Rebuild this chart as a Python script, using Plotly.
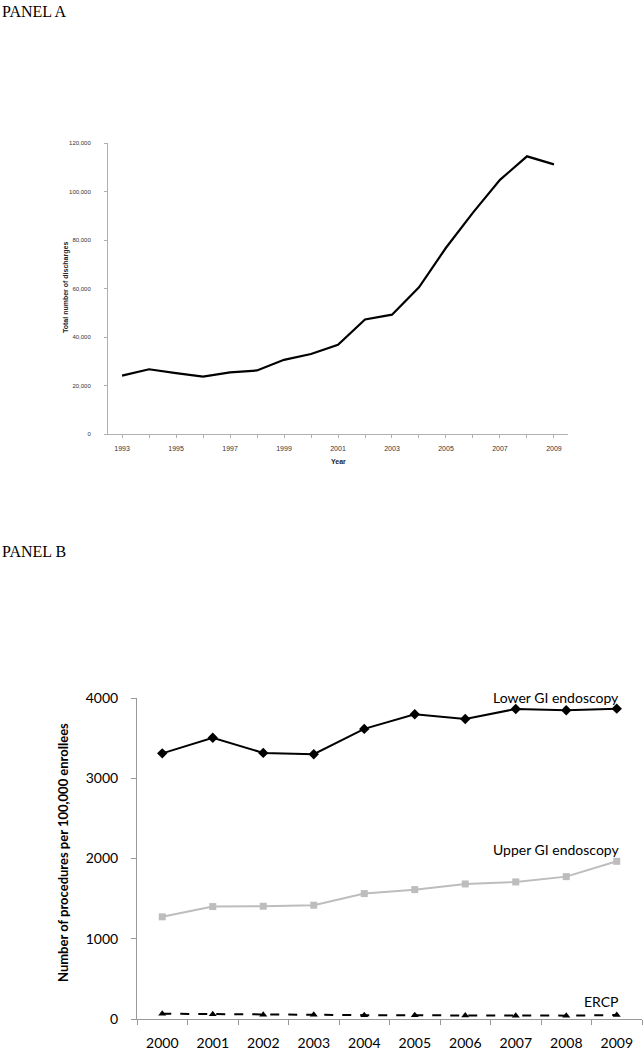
import plotly.graph_objects as go

W, H = 643, 1050

# ---------- Panel A data ----------
years_a = [1993, 1994, 1995, 1996, 1997, 1998, 1999, 2000, 2001,
           2002, 2003, 2004, 2005, 2006, 2007, 2008, 2009]
discharges = [24100, 26700, 25100, 23700, 25400, 26200, 30600, 33000, 36800,
              47200, 49200, 60500, 76800, 91300, 104800, 114500, 111200]
a_yticks = [0, 20000, 40000, 60000, 80000, 100000, 120000]
a_ytext = ["0", "20,000", "40,000", "60,000", "80,000", "100,000", "120,000"]

# ---------- Panel B data ----------
years_b = ["2000", "2001", "2002", "2003", "2004", "2005", "2006", "2007", "2008", "2009"]
lower_gi = [3310, 3505, 3316, 3300, 3615, 3797, 3739, 3863, 3847, 3867]
upper_gi = [1273, 1401, 1405, 1418, 1563, 1612, 1683, 1708, 1774, 1965]
ercp = [66, 60, 52, 52, 48, 46, 44, 42, 42, 50]
b_yticks = [0, 1000, 2000, 3000, 4000]
series_labels = ["Lower GI endoscopy", "Upper GI endoscopy", "ERCP"]


def px_x(p):
    return p / W


def px_y(p):
    return 1 - p / H


fig = go.Figure()

fig.add_trace(go.Scatter(x=years_a, y=discharges, mode="lines",
                         line=dict(color="black", width=2.2),
                         xaxis="x", yaxis="y", showlegend=False))

fig.add_trace(go.Scatter(x=years_b, y=lower_gi, mode="lines+markers",
                         line=dict(color="black", width=2),
                         marker=dict(symbol="diamond", size=8, color="black"),
                         xaxis="x2", yaxis="y2", showlegend=False))
fig.add_trace(go.Scatter(x=years_b, y=upper_gi, mode="lines+markers",
                         line=dict(color="#bdbdbd", width=2),
                         marker=dict(symbol="square", size=7, color="#bdbdbd"),
                         xaxis="x2", yaxis="y2", showlegend=False))
fig.add_trace(go.Scatter(x=years_b, y=ercp, mode="lines+markers",
                         line=dict(color="black", width=2, dash="dash"),
                         marker=dict(symbol="triangle-up", size=7, color="black"),
                         xaxis="x2", yaxis="y2", showlegend=False))

a_xfont = dict(family="Liberation Sans, Arial", size=7, color="#333333")
a_yfont = dict(family="Liberation Sans, Arial", size=6, color="#333333")
a_title_font = dict(family="Liberation Sans, Arial", size=7, color="#222222")
b_font = dict(family="Lato, Open Sans", size=14, color="black")
b_label_font = dict(family="Lato, Open Sans", size=14, color="black")
serif = dict(family="Liberation Serif, Times New Roman", size=16, color="black")

last = len(years_b) - 1

annotations = [
    dict(text="PANEL A", x=0, y=px_y(11), xref="paper", yref="paper",
         xanchor="left", yanchor="middle", showarrow=False, font=serif),
    dict(text="PANEL B", x=0, y=px_y(551), xref="paper", yref="paper",
         xanchor="left", yanchor="middle", showarrow=False, font=serif),
    dict(text="<b>Total number of discharges</b>", x=px_x(66), y=px_y(288),
         xref="paper", yref="paper", xanchor="center", yanchor="middle",
         textangle=-90, showarrow=False, font=a_title_font),
    dict(text="<b>Year</b>", x=px_x(338), y=px_y(462),
         xref="paper", yref="paper", xanchor="center", yanchor="middle",
         showarrow=False, font=a_title_font),
    dict(text="<b>Number of procedures per 100,000 enrollees</b>", x=px_x(63), y=px_y(853),
         xref="paper", yref="paper", xanchor="center", yanchor="middle",
         textangle=-90, showarrow=False,
         font=dict(family="Lato, Open Sans", size=13, color="black")),
]
for txt, vals, ys in zip(series_labels, [lower_gi, upper_gi, ercp], [1, 1, 3]):
    annotations.append(dict(text=txt, x=last, y=vals[-1], xref="x2", yref="y2",
                            xanchor="right", yanchor="bottom", xshift=4, yshift=ys,
                            showarrow=False, font=b_label_font))

fig.update_layout(
    width=W, height=H,
    margin=dict(l=0, r=0, t=0, b=0),
    paper_bgcolor="white", plot_bgcolor="white",
    xaxis=dict(domain=[px_x(108), px_x(568)], anchor="y", automargin=False,
               range=[1992.48, 2009.52], tickmode="array",
               tickvals=years_a,
               ticktext=[str(y) if y % 2 == 1 else "" for y in years_a],
               showgrid=False, zeroline=False, showline=True,
               linecolor="#b0b0b0", linewidth=1,
               ticks="outside", ticklen=3, tickcolor="#b0b0b0",
               tickfont=a_xfont, ticklabelstandoff=5),
    yaxis=dict(domain=[px_y(434), px_y(143)], anchor="x", automargin=False,
               range=[0, 120000], tickmode="array",
               tickvals=a_yticks, ticktext=a_ytext,
               showgrid=False, zeroline=False, showline=True,
               linecolor="#b0b0b0", linewidth=1,
               ticks="outside", ticklen=3, tickcolor="#b0b0b0",
               tickfont=a_yfont, ticklabelstandoff=12),
    xaxis2=dict(domain=[px_x(137), px_x(642)], anchor="y2", automargin=False,
                type="category", range=[-0.5, 9.5],
                tickson="boundaries",
                showgrid=False, zeroline=False, showline=True,
                linecolor="#999999", linewidth=1,
                ticks="outside", ticklen=5, tickcolor="#999999",
                tickfont=b_font, ticklabelstandoff=11),
    yaxis2=dict(domain=[px_y(1019), px_y(698)], anchor="x2", automargin=False,
                range=[0, 4000], tickmode="array", tickvals=b_yticks,
                showgrid=False, zeroline=False, showline=True,
                linecolor="#999999", linewidth=1,
                ticks="outside", ticklen=5, tickcolor="#999999",
                tickfont=b_font, ticklabelstandoff=10),
    annotations=annotations,
)

fig.write_html("out.html", config={"displayModeBar": False},
               post_script="document.body.style.margin='0';document.body.style.overflow='hidden';")
